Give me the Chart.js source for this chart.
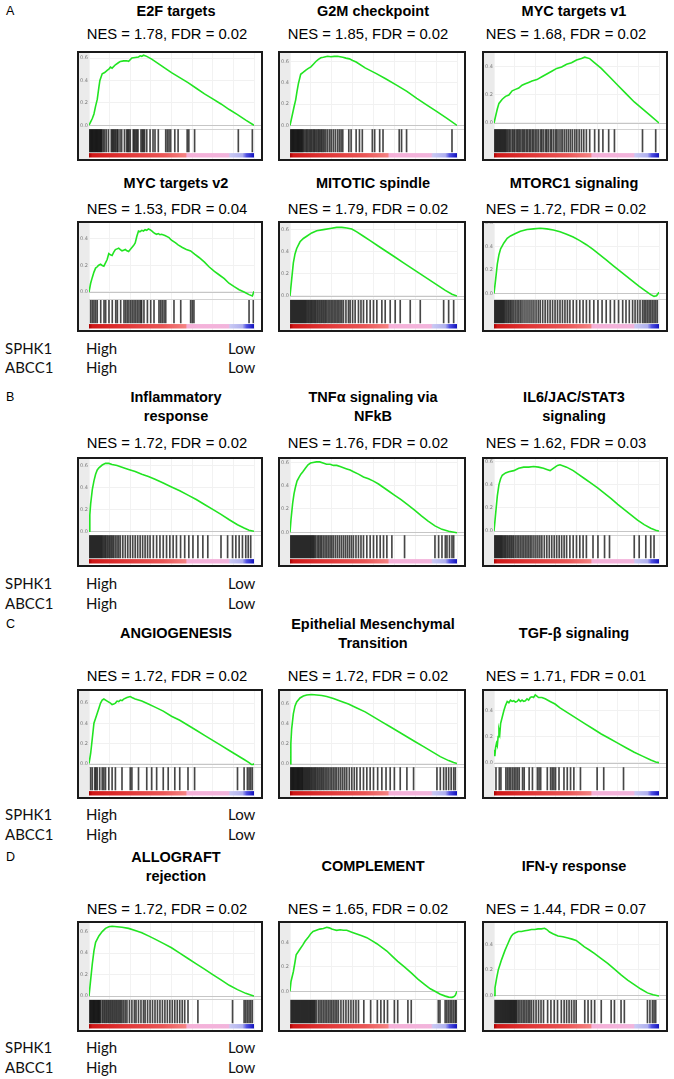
<!DOCTYPE html>
<html><head><meta charset="utf-8">
<script src="https://cdn.jsdelivr.net/npm/chart.js@4.4.1/dist/chart.umd.min.js"></script>
<style>
html,body{margin:0;padding:0;background:#fff;}
body{width:674px;height:1079px;position:relative;overflow:hidden;font-family:'Liberation Sans',Arial,sans-serif;color:#000;}
.t{position:absolute;white-space:nowrap;transform:translate(-50%,-50%);line-height:1;}
.ttl{font-weight:bold;font-size:14.5px;}
.nes{font-size:14.8px;}
.lt{position:absolute;font-size:12.5px;transform:translateY(-50%);line-height:1;}
.gl{position:absolute;font-family:Lato,sans-serif;font-size:15px;transform:translateY(-50%);line-height:1;color:#111;}
.box{position:absolute;border:2px solid #1a1a1a;box-sizing:border-box;background:#fff;}
.box canvas{display:block;}
</style></head>
<body>
<script>
// ---------------- DATA ----------------
const panelTitles = [
  ["E2F targets"], ["G2M checkpoint"], ["MYC targets v1"],
  ["MYC targets v2"], ["MITOTIC spindle"], ["MTORC1 signaling"],
  ["Inflammatory","response"], ["TNFα signaling via","NFkB"], ["IL6/JAC/STAT3","signaling"],
  ["ANGIOGENESIS"], ["Epithelial Mesenchymal","Transition"], ["TGF-β signaling"],
  ["ALLOGRAFT","rejection"], ["COMPLEMENT"], ["IFN-γ response"]
];
const nesValues = ["1.78","1.85","1.68","1.53","1.79","1.72","1.72","1.76","1.62","1.72","1.72","1.71","1.72","1.65","1.44"];
const fdrValues = ["0.02","0.02","0.02","0.04","0.02","0.02","0.02","0.02","0.03","0.02","0.02","0.01","0.02","0.02","0.07"];
const yMins = [-0.03,-0.03,-0.04,-0.055,-0.03,-0.05,-0.03,-0.02,-0.03,-0.03,-0.03,-0.03,-0.03,-0.066,-0.03];
const yMaxs = [0.645,0.68,0.5,0.52,0.66,0.6,0.66,0.63,0.62,0.72,0.73,0.55,0.68,0.56,0.566];
const sectionLetters = ["A","B","C","D"];
const geneLabels = ["SPHK1","ABCC1"];
const rankLabels = ["High","Low"];

const e2fCurve = [[0,0],[1,0.03],[2,0.06],[3,0.1],[4,0.17],[5,0.23],[6,0.34],[6.6,0.4],[8,0.46],[9.5,0.47],[11,0.49],[12,0.5],[13,0.52],[14,0.51],[16,0.54],[18,0.56],[19,0.57],[21,0.575],[23,0.575],[24,0.57],[26,0.6],[28,0.605],[30,0.61],[31,0.62],[32,0.615],[33,0.625],[34,0.62],[35,0.615],[38,0.59],[42,0.55],[46,0.51],[50,0.47],[55,0.425],[60,0.38],[65,0.33],[70,0.28],[75,0.235],[80,0.19],[85,0.14],[90,0.095],[95,0.045],[100,0]];
const e2fHits = [0.3,0.8,1.3,1.8,2.3,2.8,3.3,3.8,4.3,4.8,5.3,5.8,6.3,6.8,7.3,7.8,8.6,9.5,10.5,11.8,13.5,14.2,14.8,15.5,16.2,17.0,17.6,18.8,19.8,21.5,22.8,23.5,24.2,25.0,26.8,27.5,28.2,29.0,29.7,31.5,32.3,33.0,33.7,35.0,37.0,38.8,40.0,42.0,46.5,47.5,48.5,49.5,52.0,54.0,59.5,60.5,64.0,90.5,99.0];

const g2mCurve = [[0,0],[1.4,0.1],[2.5,0.18],[3.4,0.24],[4.2,0.32],[5,0.39],[6.4,0.48],[8,0.5],[9.5,0.52],[11,0.535],[12.5,0.55],[14,0.575],[15.5,0.6],[17,0.62],[18.5,0.635],[20,0.64],[22.5,0.65],[24.5,0.645],[26.5,0.648],[28.5,0.65],[30,0.645],[31.6,0.64],[33.5,0.632],[35.6,0.625],[37.5,0.61],[39.6,0.595],[45,0.54],[51.7,0.486],[57,0.44],[63.8,0.378],[70,0.32],[75.9,0.254],[82,0.19],[88,0.13],[94,0.065],[100,0]];
const g2mHits = [0.3,0.8,1.3,1.8,2.3,2.8,3.3,3.8,4.3,4.8,5.3,5.8,6.3,6.8,7.3,7.9,8.6,9.4,10.1,10.8,11.6,12.3,13.0,13.8,14.5,15.2,16.0,16.8,17.5,18.3,19.0,19.8,20.6,21.5,22.6,23.8,24.8,26.0,27.2,28.5,29.6,30.6,31.6,35.2,36.6,39.6,41.6,43.3,49.3,50.7,53.7,55.7,65.4,66.8,69.8,97.0];

const myc1Curve = [[0,0],[1,0.05],[2,0.1],[3,0.14],[5,0.17],[7,0.19],[9,0.2],[11,0.23],[13,0.24],[15,0.25],[17,0.27],[19,0.28],[21,0.29],[23,0.3],[26,0.31],[29,0.33],[32,0.35],[35,0.37],[38,0.39],[41,0.4],[44,0.42],[47,0.43],[50,0.45],[53,0.46],[55,0.47],[58,0.46],[61,0.43],[65,0.39],[70,0.33],[75,0.27],[80,0.21],[85,0.15],[90,0.1],[95,0.05],[100,0]];
const myc1Hits = [0.4,1.0,1.6,2.2,2.8,3.4,4.0,4.6,5.2,5.8,6.4,7.0,7.6,8.4,9.2,10.0,11.0,11.8,12.6,13.6,14.4,15.2,16.0,17.0,17.8,18.6,19.6,20.4,21.4,22.2,23.2,24.0,25.0,26.0,27.0,28.2,29.0,30.0,31.2,32.0,33.0,34.2,35.0,36.2,37.4,38.2,39.4,40.6,41.6,42.8,44.0,45.2,46.4,47.6,49.0,50.2,51.6,53.0,54.4,56.0,58.0,61.0,63.5,66.0,69.5,73.0,90.0,98.0];

const myc2Curve = [[0,0],[1,0.066],[2,0.11],[3,0.15],[4,0.18],[5,0.19],[5.7,0.2],[7,0.21],[8,0.2],[9,0.195],[10,0.22],[11,0.245],[12,0.29],[13,0.28],[14,0.275],[15,0.3],[16,0.32],[17,0.325],[18,0.33],[19,0.32],[20,0.31],[21,0.315],[22,0.32],[23,0.31],[24,0.305],[25,0.32],[26,0.335],[27,0.35],[28,0.37],[29,0.42],[30,0.46],[31,0.455],[32,0.465],[33,0.46],[34,0.47],[35,0.465],[36,0.475],[37,0.47],[38,0.46],[39,0.45],[40,0.44],[41,0.435],[42,0.44],[43,0.432],[44,0.435],[46,0.425],[48.5,0.41],[50,0.39],[52.5,0.37],[54,0.355],[56.6,0.335],[59,0.32],[61.6,0.31],[64,0.285],[66.7,0.26],[70,0.225],[72.7,0.19],[76,0.155],[78.8,0.13],[82,0.1],[84.8,0.066],[88,0.04],[91,0.017],[94,0],[97,-0.02],[99,-0.03],[100,0.005]];
const myc2Hits = [1,2,3,4,5,7.1,9.1,10.1,12.1,14.1,16.2,17.2,19.2,21.2,22.2,23.2,24.2,25.3,26.3,27.3,28.3,29.3,30.3,31.3,31.9,33.3,35.4,37.4,39.4,42.4,43.4,44.4,45.5,46.5,51.5,55.6,61.6,62.6,63.6,97,99.6];

const mitoticCurve = [[0,0],[1,0.15],[2,0.3],[3,0.38],[4,0.43],[5,0.46],[6,0.49],[8,0.52],[10,0.54],[13,0.57],[16,0.59],[20,0.6],[24,0.61],[28,0.62],[31,0.62],[34,0.615],[37,0.605],[40,0.58],[44,0.54],[48,0.5],[53,0.45],[58,0.4],[63,0.35],[68,0.3],[73,0.25],[78,0.2],[83,0.15],[88,0.1],[93,0.05],[97,0.015],[100,0]];
const mitoticHits = [0.3,0.9,1.5,2.1,2.7,3.3,3.9,4.5,5.1,5.7,6.3,6.9,7.5,8.1,8.7,9.3,9.9,10.6,11.3,12.0,12.7,13.4,14.1,14.8,15.5,16.3,17.1,17.9,18.7,19.5,20.3,21.1,21.9,22.8,23.7,24.6,25.5,26.4,27.3,28.2,29.1,30.0,31.0,32.0,33.5,35.0,36.0,37.5,39.0,41.0,42.5,44.0,46.0,48.0,50.0,52.0,55.0,57.0,60.0,63.0,66.0,72.0,78.0,92.0,95.0,98.0];

const mtorcCurve = [[0,0],[1,0.12],[2,0.25],[3,0.33],[4,0.38],[6,0.43],[8,0.47],[10,0.49],[13,0.51],[16,0.53],[20,0.545],[24,0.55],[28,0.555],[32,0.55],[36,0.54],[40,0.525],[44,0.505],[48,0.48],[52,0.45],[56,0.415],[60,0.375],[64,0.33],[68,0.285],[72,0.24],[76,0.195],[80,0.15],[84,0.105],[88,0.06],[92,0.02],[95,-0.01],[97,-0.025],[98.5,-0.02],[100,0.01]];
const mtorcHits = [0.3,0.9,1.5,2.1,2.7,3.3,3.9,4.5,5.1,5.7,6.3,7.0,7.8,8.6,9.4,10.2,11.0,12.0,13.0,14.0,15.0,16.0,17.0,18.2,19.4,20.6,21.8,23.0,24.2,25.5,26.8,28.0,29.5,31.0,32.5,34.0,35.5,37.0,38.5,40.0,41.5,43.0,44.5,46.0,48.0,50.0,52.0,54.0,56.0,58.0,60.5,63.0,65.5,68.0,70.5,73.0,75.5,78.0,80.0,82.0,84.0,85.5,87.0,88.5,90.0,91.0,92.0,93.0,94.0,95.0,96.0,97.0,98.0,99.0];

const inflamCurve = [[0,0],[0.5,0.15],[1,0.25],[2,0.38],[3,0.46],[4,0.52],[5,0.56],[6,0.58],[8,0.605],[10,0.62],[12,0.62],[14,0.61],[17,0.6],[20,0.585],[24,0.565],[28,0.545],[32,0.52],[36,0.5],[40,0.475],[45,0.44],[50,0.405],[55,0.37],[60,0.33],[65,0.29],[70,0.245],[75,0.2],[80,0.155],[85,0.105],[90,0.06],[94,0.03],[97,0.01],[100,0]];
const inflamHits = [0.3,0.9,1.5,2.1,2.7,3.3,3.9,4.5,5.1,5.7,6.3,6.9,7.5,8.1,8.8,9.5,10.2,11.0,11.8,12.6,13.4,14.2,15.0,16.0,17.0,18.0,19.0,20.5,22.0,23.5,25.0,26.5,28.0,29.5,31.0,32.5,34.0,35.5,37.0,39.0,41.0,43.0,45.0,47.0,49.0,51.0,53.0,55.5,58.0,60.5,63.0,66.0,69.0,72.0,80.0,84.0,87.0,89.0,91.0,93.0,95.0,96.5,98.0];

const tnfCurve = [[0,0],[0.6,0.11],[1.6,0.25],[2.4,0.33],[3.2,0.385],[4.2,0.44],[5.3,0.47],[6.5,0.5],[7.7,0.52],[9.2,0.55],[10.8,0.58],[12.3,0.595],[13.8,0.6],[15.8,0.605],[17.8,0.605],[19.8,0.595],[21.9,0.585],[24,0.585],[26,0.575],[28,0.575],[30,0.565],[32,0.555],[34,0.545],[36,0.535],[38,0.52],[41,0.5],[44,0.475],[47,0.46],[50,0.44],[53,0.415],[56,0.385],[59,0.355],[62.5,0.32],[66.5,0.28],[70.6,0.235],[74.6,0.19],[78.7,0.14],[82.7,0.095],[86.8,0.055],[91,0.025],[95,0.008],[100,-0.005]];
const tnfHits = [0.3,0.9,1.5,2.1,2.7,3.3,3.9,4.5,5.1,5.7,6.3,6.9,7.5,8.1,8.7,9.3,9.9,10.5,11.1,11.7,12.3,12.9,13.5,14.1,14.7,15.5,16.5,17.3,18.2,19.0,20.0,21.0,22.0,23.0,24.0,25.0,26.0,27.2,28.4,29.6,30.8,32.0,33.2,34.4,35.6,36.8,38.0,39.5,41.0,42.5,44.0,46.0,48.0,50.0,52.0,54.0,56.0,58.0,61.0,68.6,86.8,89.0,91.0,93.0,94.0,95.5,97.0,98.0];

const il6Curve = [[0,0],[1,0.15],[2,0.3],[3,0.4],[4,0.45],[5,0.48],[7,0.5],[9,0.51],[12,0.52],[15,0.54],[18,0.55],[21,0.55],[24,0.555],[27,0.55],[30,0.54],[32,0.53],[34,0.52],[35.5,0.535],[37,0.55],[38.5,0.565],[40,0.57],[42,0.56],[44,0.55],[46,0.535],[48,0.52],[51,0.49],[55,0.45],[59,0.41],[63,0.37],[67,0.325],[71,0.28],[75,0.23],[79,0.185],[83,0.14],[87,0.095],[91,0.055],[95,0.025],[98,0.008],[100,0]];
const il6Hits = [0.3,0.9,1.5,2.1,2.7,3.3,3.9,4.5,5.1,5.8,6.5,7.2,8.0,8.8,9.6,10.4,11.2,12.0,13.0,14.0,15.0,16.0,17.0,18.0,19.0,20.0,21.0,22.0,23.0,24.2,25.4,26.6,27.8,29.0,30.5,32.0,33.5,35.0,36.5,38.0,39.5,41.0,42.5,44.0,46.0,48.0,50.0,52.0,54.0,56.0,60.0,63.0,67.0,70.0,85.0,88.0,92.0,95.0,97.0];

const angioCurve = [[0,0],[1,0.1],[2,0.25],[3,0.4],[4,0.45],[5,0.5],[6,0.55],[7,0.6],[8,0.63],[9,0.64],[11,0.62],[13,0.6],[14,0.585],[15,0.59],[16,0.6],[17,0.62],[18,0.615],[19,0.63],[20,0.625],[21,0.64],[23,0.655],[24,0.66],[25,0.665],[26,0.655],[28,0.64],[32,0.62],[36,0.59],[40,0.56],[45,0.52],[50,0.47],[55,0.43],[60,0.38],[65,0.33],[70,0.28],[75,0.23],[80,0.18],[85,0.13],[90,0.08],[94,0.04],[97,0.01],[98.5,-0.01],[99.5,-0.01],[100,0]];
const angioHits = [1.0,2.0,3.5,4.2,5.0,6.5,8.0,9.0,10.0,12.0,14.0,16.0,20.0,25.0,26.0,30.0,35.0,38.0,41.0,45.0,48.0,52.0,55.0,60.0,64.0,90.0,94.0,96.0,97.0,98.0,99.0];

const emtCurve = [[0,0],[0.5,0.2],[1,0.35],[2,0.5],[3,0.58],[4,0.62],[6,0.66],[8,0.68],[10,0.69],[13,0.695],[16,0.69],[19,0.685],[22,0.675],[26,0.655],[30,0.63],[35,0.6],[40,0.56],[45,0.52],[50,0.47],[55,0.42],[60,0.37],[65,0.32],[70,0.27],[75,0.22],[80,0.17],[85,0.12],[90,0.07],[95,0.03],[98,0.01],[100,0]];
const emtHits = [0.3,0.8,1.3,1.8,2.3,2.8,3.3,3.8,4.3,4.8,5.3,5.8,6.3,6.8,7.3,7.8,8.4,9.0,9.6,10.2,10.8,11.4,12.0,12.7,13.4,14.1,14.8,15.5,16.3,17.1,17.9,18.7,19.5,20.3,21.2,22.1,23.0,24.0,25.0,26.0,27.0,28.0,29.2,30.4,31.6,32.8,34.0,35.5,37.0,38.5,40.0,42.0,44.0,46.0,48.0,50.0,52.5,55.0,57.5,60.0,62.5,66.0,70.0,74.0,88.0,90.0,92.0,93.5,95.0,96.5,98.0,99.0];

const tgfCurve = [[0,0.1],[0.5,0.05],[1,0.12],[1.5,0.15],[2,0.13],[2.5,0.2],[3,0.25],[3.5,0.22],[4,0.3],[5,0.35],[6,0.4],[7,0.44],[8,0.47],[9,0.46],[10,0.48],[11,0.47],[12,0.475],[13,0.465],[14,0.47],[15,0.485],[16,0.47],[17,0.48],[18,0.47],[19,0.475],[20,0.49],[21,0.48],[22,0.5],[23,0.505],[24,0.5],[25,0.52],[26,0.51],[27,0.5],[29,0.5],[31,0.49],[34,0.47],[37,0.45],[40,0.42],[45,0.38],[50,0.34],[55,0.3],[60,0.26],[65,0.22],[70,0.185],[75,0.15],[80,0.115],[85,0.08],[90,0.05],[95,0.02],[98,0.005],[100,0]];
const tgfHits = [1.2,3.2,4.2,7.2,8.2,9.2,10.2,11.3,12.3,13.3,14.3,15.3,17.3,18.3,21.3,23.3,26.3,27.3,28.3,32.3,34.3,35.3,36.3,37.3,39.4,42.4,44.4,46.4,48.4,52.4,62.5,66.5,78.5];

const alloCurve = [[0,0],[1,0.15],[2,0.3],[3,0.42],[4,0.5],[6,0.56],[8,0.6],[10,0.63],[12,0.645],[14,0.65],[17,0.645],[20,0.64],[24,0.63],[28,0.61],[32,0.59],[36,0.56],[40,0.53],[45,0.49],[50,0.45],[55,0.4],[60,0.35],[65,0.3],[70,0.25],[75,0.2],[80,0.15],[85,0.1],[90,0.06],[95,0.025],[98,0.01],[100,0]];
const alloHits = [0.5,1.0,1.5,2.0,2.5,3.0,3.5,4.0,4.5,5.0,5.5,6.0,6.5,7.0,8.0,8.8,9.6,10.4,11.2,12.0,12.8,13.6,14.4,15.2,16.0,16.8,17.6,18.4,19.2,20.0,21.0,22.0,23.0,24.5,26.0,27.5,28.5,30.0,31.5,33.0,34.0,35.5,37.0,38.5,40.0,41.5,43.0,44.5,46.0,47.5,49.0,50.5,52.0,53.5,55.0,56.5,58.0,60.0,66.0,87.0,94.0,95.0,96.0,97.0,98.0,99.0];

const complCurve = [[0,0],[0.6,0.08],[2,0.16],[3,0.24],[3.7,0.3],[5.7,0.34],[7.7,0.38],[9,0.41],[10.8,0.44],[12.3,0.47],[13.8,0.49],[15.8,0.5],[17.8,0.51],[20,0.515],[22,0.525],[23.5,0.52],[25,0.51],[26.5,0.505],[28,0.5],[30,0.505],[32,0.5],[34,0.5],[37,0.485],[40,0.47],[43,0.455],[46,0.44],[49,0.415],[52,0.39],[55,0.36],[58,0.33],[61,0.29],[64.5,0.245],[68.5,0.2],[72.6,0.15],[76.6,0.1],[80.7,0.055],[84,0.02],[86.8,0],[90,-0.025],[93,-0.04],[95,-0.048],[97,-0.05],[98,-0.045],[99,-0.033],[100,0]];
const complHits = [0.6,1.2,1.8,2.4,3.0,3.6,4.2,4.8,5.4,6.0,6.6,7.2,7.8,8.4,9.0,9.6,10.2,10.8,11.4,12.0,12.6,13.2,13.8,14.4,15.0,15.8,17.0,18.0,19.0,20.0,21.0,22.0,23.0,24.0,25.0,26.0,27.0,28.0,29.0,30.5,32.0,33.5,35.0,36.5,38.0,39.5,41.0,44.2,48.3,52.3,54.4,56.4,58.4,62.5,64.5,70.6,72.6,88.8,89.8,92.9,93.9,94.9,95.9,96.9,97.9,98.9,99.6];

const ifnCurve = [[0,0],[0.6,0.06],[1.6,0.136],[2.6,0.2],[3.6,0.24],[4.6,0.28],[5.6,0.315],[6.6,0.35],[7.6,0.38],[8.6,0.41],[9.6,0.44],[10.6,0.465],[11.6,0.48],[13,0.49],[14.7,0.5],[16.7,0.5],[18.7,0.505],[20.7,0.51],[22.7,0.515],[24.7,0.515],[26.7,0.52],[28.7,0.52],[30.7,0.525],[32,0.515],[33.7,0.495],[36,0.48],[38.8,0.464],[41.8,0.458],[44.8,0.449],[47.3,0.44],[49.8,0.43],[52.3,0.405],[54.8,0.38],[57.8,0.355],[60.8,0.328],[64.8,0.29],[68.9,0.25],[73,0.205],[77,0.16],[81,0.12],[85,0.085],[89,0.05],[93,0.02],[96.5,0.005],[100,-0.005]];
const ifnHits = [0.6,1.2,1.8,2.4,3.0,3.6,4.2,4.8,5.4,6.0,6.6,7.2,7.8,8.4,9.0,9.6,10.2,10.8,11.4,12.0,12.6,13.2,13.8,14.7,15.7,16.7,17.7,18.7,19.7,20.7,21.7,22.7,24.0,25.5,27.0,28.5,30.0,32.5,34.5,36.5,38.5,40.8,42.5,44.0,45.5,47.0,48.5,49.8,55.0,57.0,59.0,61.0,65.0,71.0,73.0,77.0,79.0,93.0,94.5,96.0,97.0,98.0];

const panelCurves = [e2fCurve,g2mCurve,myc1Curve,myc2Curve,mitoticCurve,mtorcCurve,inflamCurve,tnfCurve,il6Curve,angioCurve,emtCurve,tgfCurve,alloCurve,complCurve,ifnCurve];
const panelHits = [e2fHits,g2mHits,myc1Hits,myc2Hits,mitoticHits,mtorcHits,inflamHits,tnfHits,il6Hits,angioHits,emtHits,tgfHits,alloHits,complHits,ifnHits];

// ---------------- LAYOUT ----------------
const boxLeft = [77,278,482];
const boxWidth = [186,188,186];
const titleCx = [176,373,574];
const nesCx = [167,368,566];
const rowBoxTop = [51,221,457,689,921];
const rowBoxH = [110,111,110,110,111];
const rowTitleY = [[11],[183],[397,416],[633],[866]];
const rowNesY = [34,209,443,676,909];
const letterY = [11,397,624,857];
const geneRowsY = [[348,367],[583,603],[814,834],[1047,1067]];

function addText(cls, txt, x, y){
  const d=document.createElement('div'); d.className=cls; d.textContent=txt;
  d.style.left=x+'px'; d.style.top=y+'px'; document.body.appendChild(d); return d;
}

const gseaPlugin = {
  id:'gsea',
  beforeDraw(chart){
    const {ctx, chartArea:a} = chart;
    ctx.save();
    ctx.fillStyle='#fff'; ctx.fillRect(0,0,chart.width,chart.height);
    ctx.fillStyle='#ebebeb'; ctx.fillRect(0,0,a.left,chart.height);
    ctx.restore();
  },
  beforeDatasetsDraw(chart){
    const {ctx} = chart;
    const x=chart.scales.x, y=chart.scales.y, g=chart.scales.yg;
    const x0=x.getPixelForValue(0), x1=x.getPixelForValue(100);
    ctx.save();
    ctx.strokeStyle='#c6c6c6'; ctx.lineWidth=1;
    const zy=Math.round(y.getPixelForValue(0))+0.5;
    ctx.beginPath(); ctx.moveTo(chart.chartArea.left,zy); ctx.lineTo(chart.width,zy); ctx.stroke();
    ctx.strokeStyle='#d4d4d4';
    const sy=Math.round(y.bottom)+0.5;
    ctx.beginPath(); ctx.moveTo(chart.chartArea.left,sy); ctx.lineTo(chart.width,sy); ctx.stroke();
    const gr=ctx.createLinearGradient(x0,0,x1,0);
    gr.addColorStop(0,'#a80000');
    gr.addColorStop(0.02,'#d01818');
    gr.addColorStop(0.2,'#df3333');
    gr.addColorStop(0.45,'#ea5656');
    gr.addColorStop(0.585,'#f48282');
    gr.addColorStop(0.595,'#f5b0d8');
    gr.addColorStop(0.845,'#f2b4dc');
    gr.addColorStop(0.855,'#c8c8f3');
    gr.addColorStop(0.93,'#b0b0ee');
    gr.addColorStop(0.955,'#5050e2');
    gr.addColorStop(1,'#1212bd');
    ctx.fillStyle=gr;
    ctx.fillRect(x0, g.top, x1-x0, g.bottom-g.top-1.5);
    ctx.restore();
  }
};

function fitY(s){ s.width=10; s.paddingTop=0; s.paddingBottom=0; }

for(let i=0;i<15;i++){
  const row=Math.floor(i/3), col=i%3;
  const titleLines=panelTitles[i];
  let ty=rowTitleY[row];
  if(titleLines.length===2 && ty.length===1){ ty=[ty[0]-9.5, ty[0]+9.5]; }
  if(titleLines.length===1 && ty.length===2){ ty=[(ty[0]+ty[1])/2]; }
  titleLines.forEach((ln,k)=>addText('t ttl', ln, titleCx[col], ty[k]));
  addText('t nes', 'NES = '+nesValues[i]+', FDR = '+fdrValues[i], nesCx[col], rowNesY[row]);

  const box=document.createElement('div'); box.className='box';
  box.style.left=boxLeft[col]+'px'; box.style.top=rowBoxTop[row]+'px';
  box.style.width=boxWidth[col]+'px'; box.style.height=rowBoxH[row]+'px';
  const cv=document.createElement('canvas');
  const cw=boxWidth[col]-4, ch=rowBoxH[row]-4;
  cv.width=cw; cv.height=ch; cv.style.width=cw+'px'; cv.style.height=ch+'px';
  box.appendChild(cv); document.body.appendChild(box);

  new Chart(cv, {
    type:'line',
    data:{datasets:[
      {type:'line', data:panelCurves[i].map(p=>({x:p[0],y:p[1]})), xAxisID:'x', yAxisID:'y',
       borderColor:'#22e422', borderWidth:1.6, pointRadius:0, tension:0, fill:false, order:0},
      {type:'bar', data:panelHits[i].map(h=>({x:h,y:[0,1]})), xAxisID:'x', yAxisID:'yh',
       backgroundColor:'rgba(0,0,0,0.72)', borderWidth:0, barThickness:1, grouped:false, order:1}
    ]},
    options:{
      responsive:false, animation:false, devicePixelRatio:1, events:[],
      layout:{padding:{top:0,right:7,bottom:0,left:0}},
      plugins:{legend:{display:false}, tooltip:{enabled:false}},
      scales:{
        x:{type:'linear', min:0, max:100, position:'bottom', offset:false,
           ticks:{display:false, stepSize:12.5}, grid:{color:'#f2f2f2', drawTicks:false, offset:false}, border:{display:false},
           afterFit(s){ s.height=0; s.paddingLeft=0; s.paddingRight=0; }},
        y:{type:'linear', position:'left', stack:'p', stackWeight:77, weight:3, min:yMins[i], max:yMaxs[i],
           ticks:{stepSize:0.1, includeBounds:false, font:{size:5, family:'DejaVu Sans'}, color:'#7a7a7a', padding:1,
                  callback:v=>Math.abs(v)<1e-9?'0.0':v.toFixed(1)},
           grid:{drawTicks:false, color:'#f1f1f1'}, border:{display:false}, afterFit:fitY},
        yh:{type:'linear', position:'left', stack:'p', stackWeight:25, weight:2, min:-0.05, max:1.05,
            ticks:{display:false}, grid:{display:false}, border:{display:false}, afterFit:fitY},
        yg:{type:'linear', position:'left', stack:'p', stackWeight:6, weight:1, min:0, max:1,
            ticks:{display:false}, grid:{display:false}, border:{display:false}, afterFit:fitY}
      }
    },
    plugins:[gseaPlugin]
  });
}

sectionLetters.forEach((L,k)=>addText('lt', L, 6, letterY[k]));
geneRowsY.forEach(ys=>{
  ys.forEach((yy,k)=>{
    addText('gl', geneLabels[k], 5, yy);
    addText('gl', rankLabels[0], 86, yy);
    addText('gl', rankLabels[1], 228, yy);
  });
});
</script>
</body></html>
